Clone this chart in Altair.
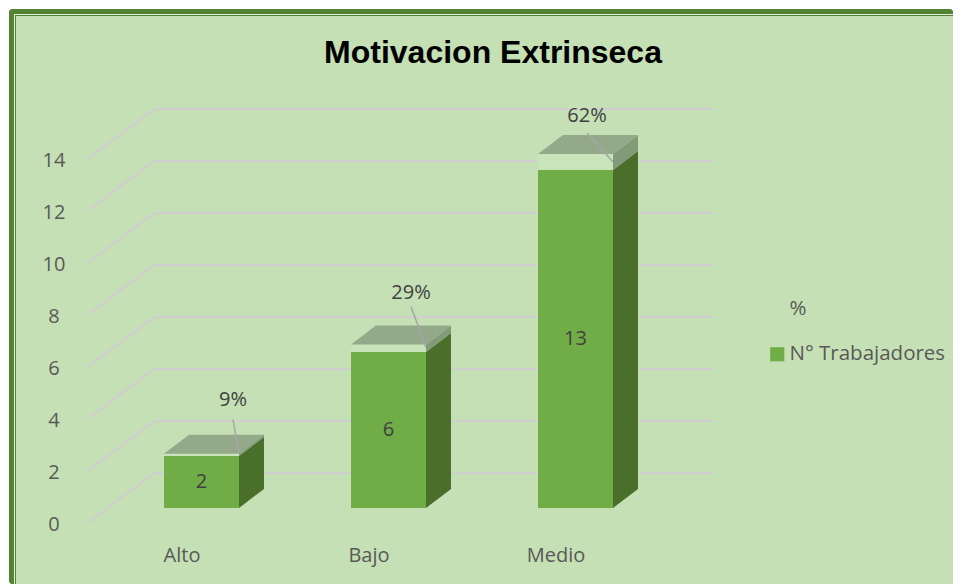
import altair as alt
import pandas as pd

categories = ["Alto", "Bajo", "Medio"]
workers = [2, 6, 13]
shares = [0.09, 0.29, 0.62]
share_labels = ["9%", "29%", "62%"]
axis_ticks = [0, 2, 4, 6, 8, 10, 12, 14]
series_names = ["%", "N° Trabajadores"]

BG = "#c5e0b4"
GREEN = "#70ad47"
SIDE = "#4a6f2b"
TOP = "#94a88a"
SIDE_TOP = "#819a78"
BAND = "#c9e3ba"
GRID = "#cfcfcf"
W, H = 945, 576
PXU, PXV = 187.0, 26.0     # pixels per category step / per value unit
BAR_W, DEPTH_X = 75 / PXU, 25 / PXU
BASE, DEPTH_Y = -35 / PXV, 19 / PXV
FLOOR = -49 / PXV
GRID_X = [-75 / PXU, -10 / PXU, 549 / PXU]
X = alt.Scale(domain=[-156 / PXU, (W - 156) / PXU], nice=False, zero=False)
Y = alt.Scale(domain=[-111 / PXV, 465 / PXV], nice=False, zero=False)


def xy(x="x:Q", y="y:Q"):
    return dict(x=alt.X(x, scale=X, axis=None), y=alt.Y(y, scale=Y, axis=None))


front, band, side, top, grid, leaders = [], [], [], [], [], []
for i, (c, v, s) in enumerate(zip(categories, workers, shares)):
    tops = BASE + v + s
    mid = BASE + v
    front.append(dict(x=i, x2=i + BAR_W, y=BASE, y2=mid, serie=series_names[1]))
    front.append(dict(x=i, x2=i + BAR_W, y=mid, y2=tops, serie=series_names[0]))
    band.append(dict(x=i, x2=i + BAR_W, y=mid, y2=tops))
    for low, high, name in [(BASE, mid, "g"), (mid, tops, "p")]:
        side.append(dict(x=i + BAR_W, y=low, y2=high, key=f"{i}{name}", part=name))
        side.append(dict(x=i + BAR_W + DEPTH_X, y=low + DEPTH_Y, y2=high + DEPTH_Y,
                         key=f"{i}{name}", part=name))
    top.append(dict(y=tops, x=i, x2=i + BAR_W, key=i))
    top.append(dict(y=tops + DEPTH_Y, x=i + DEPTH_X, x2=i + BAR_W + DEPTH_X, key=i))

for t in axis_ticks:
    grid.append(dict(x=GRID_X[0], y=t + FLOOR, key=t))
    grid.append(dict(x=GRID_X[1], y=t, key=t))
    grid.append(dict(x=GRID_X[2], y=t, key=t))

# label anchors relative to each bar's front-right top corner
label_dx = [-6 / PXU, -15 / PXU, -26 / PXU]
label_dy = [54 / PXV, 51 / PXV, 38 / PXV]
leader_tip = [0 / PXV, -3 / PXV, -8 / PXV]
leader_start = [34 / PXV, 38 / PXV, 21 / PXV]
share_rows = []
for i, (v, s, l) in enumerate(zip(workers, shares, share_labels)):
    corner = i + BAR_W
    tops = BASE + v + s
    share_rows.append(dict(x=corner + label_dx[i], y=tops + label_dy[i], t=l))
    leaders.append(dict(x=corner + label_dx[i], y=tops + leader_start[i], key=i))
    leaders.append(dict(x=corner, y=tops + leader_tip[i], key=i))

value_rows = [dict(x=i + BAR_W / 2, y=BASE + v / 2, t=str(v)) for i, v in enumerate(workers)]
tick_rows = [dict(x=-110 / PXU, y=t + FLOOR - 2.5 / PXV, t=str(t)) for t in axis_ticks]
cat_rows = [dict(x=i + 18 / PXU, y=BASE - 48 / PXV, t=c) for i, c in enumerate(categories)]

FONT = "Open Sans"


def frame(inset, color, radius=0):
    return alt.Chart(pd.DataFrame({"a": [0]})).mark_rect(fill=color, cornerRadius=radius).encode(
        x=alt.value(inset), x2=alt.value(W), y=alt.value(inset), y2=alt.value(H))


def df(rows):
    return pd.DataFrame(rows)


frames = [frame(1, "#548235", 3), frame(6, "#e2efd9"), frame(7, "#548235"), frame(8, BG)]

grid_layer = alt.Chart(df(grid)).mark_line(color=GRID, strokeWidth=2.2).encode(
    **xy(), detail="key:N")

front_layer = alt.Chart(df(front)).mark_rect().encode(
    **xy(), x2="x2:Q", y2="y2:Q",
    color=alt.Color("serie:N", scale=alt.Scale(domain=series_names, range=[BG, GREEN]),
                    legend=alt.Legend(title=None, orient="none", legendX=759, legendY=291,
                                      symbolType="square", symbolSize=200, symbolStrokeWidth=0,
                                      labelFont=FONT, labelFontSize=20.5, labelColor="#595959",
                                      rowPadding=24, labelOffset=2)))
band_layer = alt.Chart(df(band)).mark_rect(fill=BAND).encode(**xy(), x2="x2:Q", y2="y2:Q")

side_df = df(side)
side_green = alt.Chart(side_df[side_df.part == "g"]).mark_area(color=SIDE, opacity=1).encode(
    **xy(), y2="y2:Q", detail="key:N")
side_pct = alt.Chart(side_df[side_df.part == "p"]).mark_area(color=SIDE_TOP, opacity=1).encode(
    **xy(), y2="y2:Q", detail="key:N")
top_layer = alt.Chart(df(top)).mark_area(orient="horizontal", color=TOP, opacity=1).encode(
    **xy(), x2="x2:Q", detail="key:N")
leader_layer = alt.Chart(df(leaders)).mark_line(color="#a6a6a6", strokeWidth=1.5).encode(
    **xy(), detail="key:N")


def texts(rows, size, color, **kw):
    return alt.Chart(df(rows)).mark_text(font=FONT, fontSize=size, color=color, align="center",
                                         baseline="middle", **kw).encode(**xy(), text="t:N")


title_layer = alt.Chart(df([dict(x=(493 - 8 - 156) / PXU, y=(465 - 45) / PXV, t="Motivacion Extrinseca")])).mark_text(
    font="Liberation Sans", fontSize=32, fontWeight="bold", color="#000000", align="center",
    baseline="middle").encode(**xy(), text="t:N")

chart = alt.layer(
    *frames, grid_layer, front_layer, band_layer, side_green, side_pct, top_layer, leader_layer,
    texts(value_rows, 20, "#404040"), texts(share_rows, 20, "#404040"),
    texts(tick_rows, 20, "#595959"), texts(cat_rows, 20, "#595959"), title_layer,
).properties(
    width=W, height=H, padding=0, autosize=alt.AutoSizeParams(type="none"),
    background="transparent",
).configure_view(stroke=None)

chart.save("out.html", embed_options={"renderer": "svg", "actions": False})
